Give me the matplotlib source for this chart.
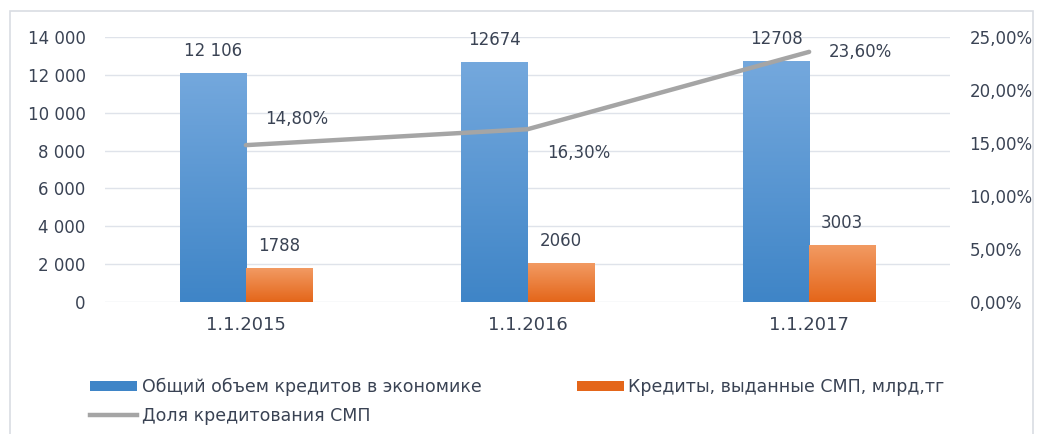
import matplotlib
matplotlib.use("Agg")
import matplotlib.pyplot as plt
import numpy as np
from matplotlib.colors import LinearSegmentedColormap
from matplotlib.patches import Patch, Rectangle
from matplotlib.lines import Line2D
from matplotlib.ticker import FuncFormatter

categories = ["1.1.2015", "1.1.2016", "1.1.2017"]
total_credit = [12106, 12674, 12708]
total_labels = ["12 106", "12674", "12708"]
smp_credit = [1788, 2060, 3003]
smp_share = [14.8, 16.3, 23.6]
share_labels = ["14,80%", "16,30%", "23,60%"]

NAMES = ["Общий объем кредитов в экономике",
         "Кредиты, выданные СМП, млрд,тг",
         "Доля кредитования СМП"]

TXT = "#3a4354"
BLUE_TOP, BLUE_BOT = "#74a8dd", "#3f85c7"
ORG_TOP, ORG_BOT = "#f29a62", "#e4661a"
GRAY = "#a5a5a5"
NARROW = ["Liberation Sans Narrow", "DejaVu Sans"]

fig = plt.figure(figsize=(10.38, 4.34), dpi=100)
ax = fig.add_axes([0.1012, 0.3041, 0.8140, 0.6106])
ax2 = ax.twinx()

x = np.arange(len(categories))
w = 0.235

ax.set_xlim(-0.5, 2.5)
ax.set_ylim(0, 14000)
ax.set_yticks(np.arange(0, 14001, 2000))
ax.yaxis.set_major_formatter(FuncFormatter(lambda v, p: f"{int(v):,}".replace(",", " ")))
ax.grid(axis="y", color="#dfe3ea", lw=1.0)
ax.set_axisbelow(True)
for s in ax.spines.values():
    s.set_visible(False)
for s in ax2.spines.values():
    s.set_visible(False)
ax.tick_params(axis="y", length=0, labelsize=12, labelcolor=TXT, pad=14)
ax.tick_params(axis="x", length=0, labelcolor=TXT, pad=10)
ax.set_xticks(x)
ax.set_xticklabels(categories, family=NARROW, fontsize=13)


def grad_bars(xs, hs, top, bot):
    cmap = LinearSegmentedColormap.from_list("g", [bot, top])
    grad = np.linspace(0, 1, 100).reshape(-1, 1)
    bars = ax.bar(xs, hs, width=w, color=bot, edgecolor="none", zorder=2)
    for b in bars:
        im = ax.imshow(grad, cmap=cmap, origin="lower", aspect="auto", zorder=2.1,
                       extent=[b.get_x(), b.get_x() + b.get_width(), 0, b.get_height()])
        im.set_clip_path(b)
    return bars


grad_bars(x - w / 2, total_credit, BLUE_TOP, BLUE_BOT)
grad_bars(x + w / 2, smp_credit, ORG_TOP, ORG_BOT)
ax.set_xlim(-0.5, 2.5)
ax.set_ylim(0, 14000)

for xi, v, lab in zip(x, total_credit, total_labels):
    ax.text(xi - w / 2, v + 700, lab, ha="center", va="bottom", fontsize=12, color=TXT)
for xi, v in zip(x, smp_credit):
    ax.text(xi + w / 2, v + 700, str(v), ha="center", va="bottom", fontsize=12, color=TXT)

ax2.set_ylim(0, 25)
ax2.set_yticks(np.arange(0, 25.1, 5))
ax2.yaxis.set_major_formatter(FuncFormatter(lambda v, p: f"{v:.2f}%".replace(".", ",")))
ax2.tick_params(axis="y", length=0, labelsize=12, labelcolor=TXT, pad=14)
ax2.plot(x, smp_share, color=GRAY, lw=3.2, solid_capstyle="round", zorder=5)
offsets = [(0.07, 2.5), (0.07, -2.2), (0.07, 0.0)]
for xi, v, lab, (dx, dy) in zip(x, smp_share, share_labels, offsets):
    ax2.text(xi + dx, v + dy, lab, ha="left", va="center", fontsize=12, color=TXT)

handles = [Patch(facecolor=BLUE_BOT, edgecolor="none"),
           Line2D([0], [0], color=GRAY, lw=3.2),
           Patch(facecolor=ORG_BOT, edgecolor="none")]
labels = [NAMES[0], NAMES[2], NAMES[1]]
fig.legend(handles, labels, ncol=2, loc="upper left", bbox_to_anchor=(0.072, 0.165),
           frameon=False, prop={"family": NARROW, "size": 12.5},
           handlelength=2.7, handleheight=0.5, handletextpad=0.25,
           columnspacing=5.5, labelspacing=0.6, labelcolor=TXT)

fig.patches.append(Rectangle((0.01, -0.02), 0.985, 0.995, transform=fig.transFigure,
                             fill=False, edgecolor="#d9dde3", lw=1.2))

fig.savefig("out.png", dpi=100)
